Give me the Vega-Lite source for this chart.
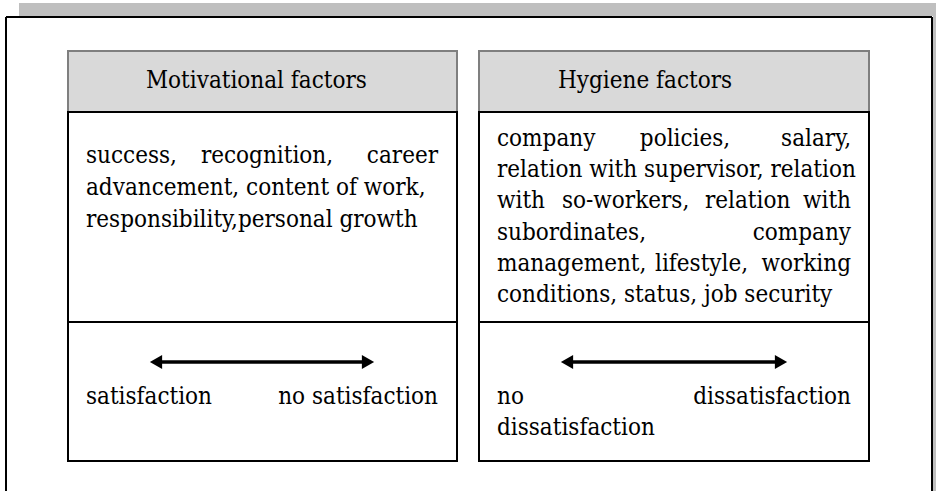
{
  "$schema": "https://vega.github.io/schema/vega-lite/v6.json",
  "width": 936,
  "height": 491,
  "autosize": {"type": "fit", "contains": "padding"},
  "padding": 0,
  "background": "white",
  "config": {"view": {"stroke": null}, "text": {"font": "DejaVu Serif Condensed"}},
  "datasets": {
    "shade": [
      {"x": 19, "x2": 936, "y": 3, "y2": 16},
      {"x": 933, "x2": 936, "y": 16, "y2": 491}
    ],
    "frame": [
      {"x": 6, "x2": 932, "y": 17, "y2": 17},
      {"x": 6, "x2": 6, "y": 17, "y2": 491},
      {"x": 932, "x2": 932, "y": 17, "y2": 491}
    ],
    "headers": [
      {"x": 68, "x2": 457, "y": 51, "y2": 112},
      {"x": 479, "x2": 869, "y": 51, "y2": 112}
    ],
    "cells": [
      {"x": 68, "x2": 457, "y": 112, "y2": 322},
      {"x": 68, "x2": 457, "y": 322, "y2": 461},
      {"x": 479, "x2": 869, "y": 112, "y2": 322},
      {"x": 479, "x2": 869, "y": 322, "y2": 461}
    ],
    "headerText": [
      {"t": "Motivational factors", "x": 146, "y": 81},
      {"t": "Hygiene factors", "x": 558, "y": 81}
    ],
    "textLeft": [
      {"t": "success,", "x": 86, "y": 163},
      {"t": "advancement, content of work,", "x": 86, "y": 195},
      {"t": "responsibility,personal growth", "x": 86, "y": 227},
      {"t": "company", "x": 497, "y": 146},
      {"t": "relation with supervisor, relation", "x": 497, "y": 177},
      {"t": "with", "x": 497, "y": 208},
      {"t": "so-workers,", "x": 562, "y": 208},
      {"t": "relation", "x": 705, "y": 208},
      {"t": "subordinates,", "x": 497, "y": 240},
      {"t": "management,", "x": 497, "y": 271},
      {"t": "lifestyle,", "x": 655, "y": 271},
      {"t": "conditions, status, job security", "x": 497, "y": 302},
      {"t": "satisfaction", "x": 86, "y": 404},
      {"t": "no", "x": 497, "y": 404},
      {"t": "dissatisfaction", "x": 497, "y": 435}
    ],
    "textCenter": [
      {"t": "recognition,", "x": 267, "y": 163},
      {"t": "policies,", "x": 685, "y": 146}
    ],
    "textRight": [
      {"t": "career", "x": 438, "y": 163},
      {"t": "salary,", "x": 851, "y": 146},
      {"t": "with", "x": 851, "y": 208},
      {"t": "company", "x": 851, "y": 240},
      {"t": "working", "x": 851, "y": 271},
      {"t": "no satisfaction", "x": 438, "y": 404},
      {"t": "dissatisfaction", "x": 851, "y": 404}
    ],
    "shafts": [
      {"x": 156, "x2": 368, "y": 362},
      {"x": 567, "x2": 781, "y": 362}
    ],
    "headsLeft": [
      {"x": 156, "y": 362},
      {"x": 567, "y": 362}
    ],
    "headsRight": [
      {"x": 368, "y": 362},
      {"x": 781, "y": 362}
    ]
  },
  "layer": [
    {
      "data": {"name": "shade"},
      "mark": {"type": "rect", "fill": "#bfbfbf"},
      "encoding": {
        "x": {"field": "x", "type": "quantitative", "scale": {"domain": [0, 936], "range": [0, 936], "nice": false, "zero": false}, "axis": null},
        "x2": {"field": "x2"},
        "y": {"field": "y", "type": "quantitative", "scale": {"domain": [0, 491], "range": [0, 491], "nice": false, "zero": false}, "axis": null},
        "y2": {"field": "y2"}
      }
    },
    {
      "data": {"name": "frame"},
      "mark": {"type": "rule", "stroke": "#000000", "strokeWidth": 2},
      "encoding": {
        "x": {"field": "x", "type": "quantitative", "axis": null},
        "x2": {"field": "x2"},
        "y": {"field": "y", "type": "quantitative", "axis": null},
        "y2": {"field": "y2"}
      }
    },
    {
      "data": {"name": "headers"},
      "mark": {"type": "rect", "fill": "#d9d9d9", "stroke": "#7f7f7f", "strokeWidth": 2},
      "encoding": {
        "x": {"field": "x", "type": "quantitative", "axis": null},
        "x2": {"field": "x2"},
        "y": {"field": "y", "type": "quantitative", "axis": null},
        "y2": {"field": "y2"}
      }
    },
    {
      "data": {"name": "cells"},
      "mark": {"type": "rect", "fill": null, "stroke": "#000000", "strokeWidth": 2},
      "encoding": {
        "x": {"field": "x", "type": "quantitative", "axis": null},
        "x2": {"field": "x2"},
        "y": {"field": "y", "type": "quantitative", "axis": null},
        "y2": {"field": "y2"}
      }
    },
    {
      "data": {"name": "headerText"},
      "mark": {"type": "text", "align": "left", "baseline": "middle", "fontSize": 24, "fill": "#000000"},
      "encoding": {
        "x": {"field": "x", "type": "quantitative", "axis": null},
        "y": {"field": "y", "type": "quantitative", "axis": null},
        "text": {"field": "t"}
      }
    },
    {
      "data": {"name": "textLeft"},
      "mark": {"type": "text", "align": "left", "baseline": "alphabetic", "fontSize": 24, "fill": "#000000"},
      "encoding": {
        "x": {"field": "x", "type": "quantitative", "axis": null},
        "y": {"field": "y", "type": "quantitative", "axis": null},
        "text": {"field": "t"}
      }
    },
    {
      "data": {"name": "textCenter"},
      "mark": {"type": "text", "align": "center", "baseline": "alphabetic", "fontSize": 24, "fill": "#000000"},
      "encoding": {
        "x": {"field": "x", "type": "quantitative", "axis": null},
        "y": {"field": "y", "type": "quantitative", "axis": null},
        "text": {"field": "t"}
      }
    },
    {
      "data": {"name": "textRight"},
      "mark": {"type": "text", "align": "right", "baseline": "alphabetic", "fontSize": 24, "fill": "#000000"},
      "encoding": {
        "x": {"field": "x", "type": "quantitative", "axis": null},
        "y": {"field": "y", "type": "quantitative", "axis": null},
        "text": {"field": "t"}
      }
    },
    {
      "data": {"name": "shafts"},
      "mark": {"type": "rule", "stroke": "#000000", "strokeWidth": 3.5},
      "encoding": {
        "x": {"field": "x", "type": "quantitative", "axis": null},
        "x2": {"field": "x2"},
        "y": {"field": "y", "type": "quantitative", "axis": null}
      }
    },
    {
      "data": {"name": "headsLeft"},
      "mark": {"type": "point", "shape": "triangle-left", "filled": true, "fill": "#000000", "opacity": 1, "size": 200},
      "encoding": {
        "x": {"field": "x", "type": "quantitative", "axis": null},
        "y": {"field": "y", "type": "quantitative", "axis": null}
      }
    },
    {
      "data": {"name": "headsRight"},
      "mark": {"type": "point", "shape": "triangle-right", "filled": true, "fill": "#000000", "opacity": 1, "size": 200},
      "encoding": {
        "x": {"field": "x", "type": "quantitative", "axis": null},
        "y": {"field": "y", "type": "quantitative", "axis": null}
      }
    }
  ]
}
